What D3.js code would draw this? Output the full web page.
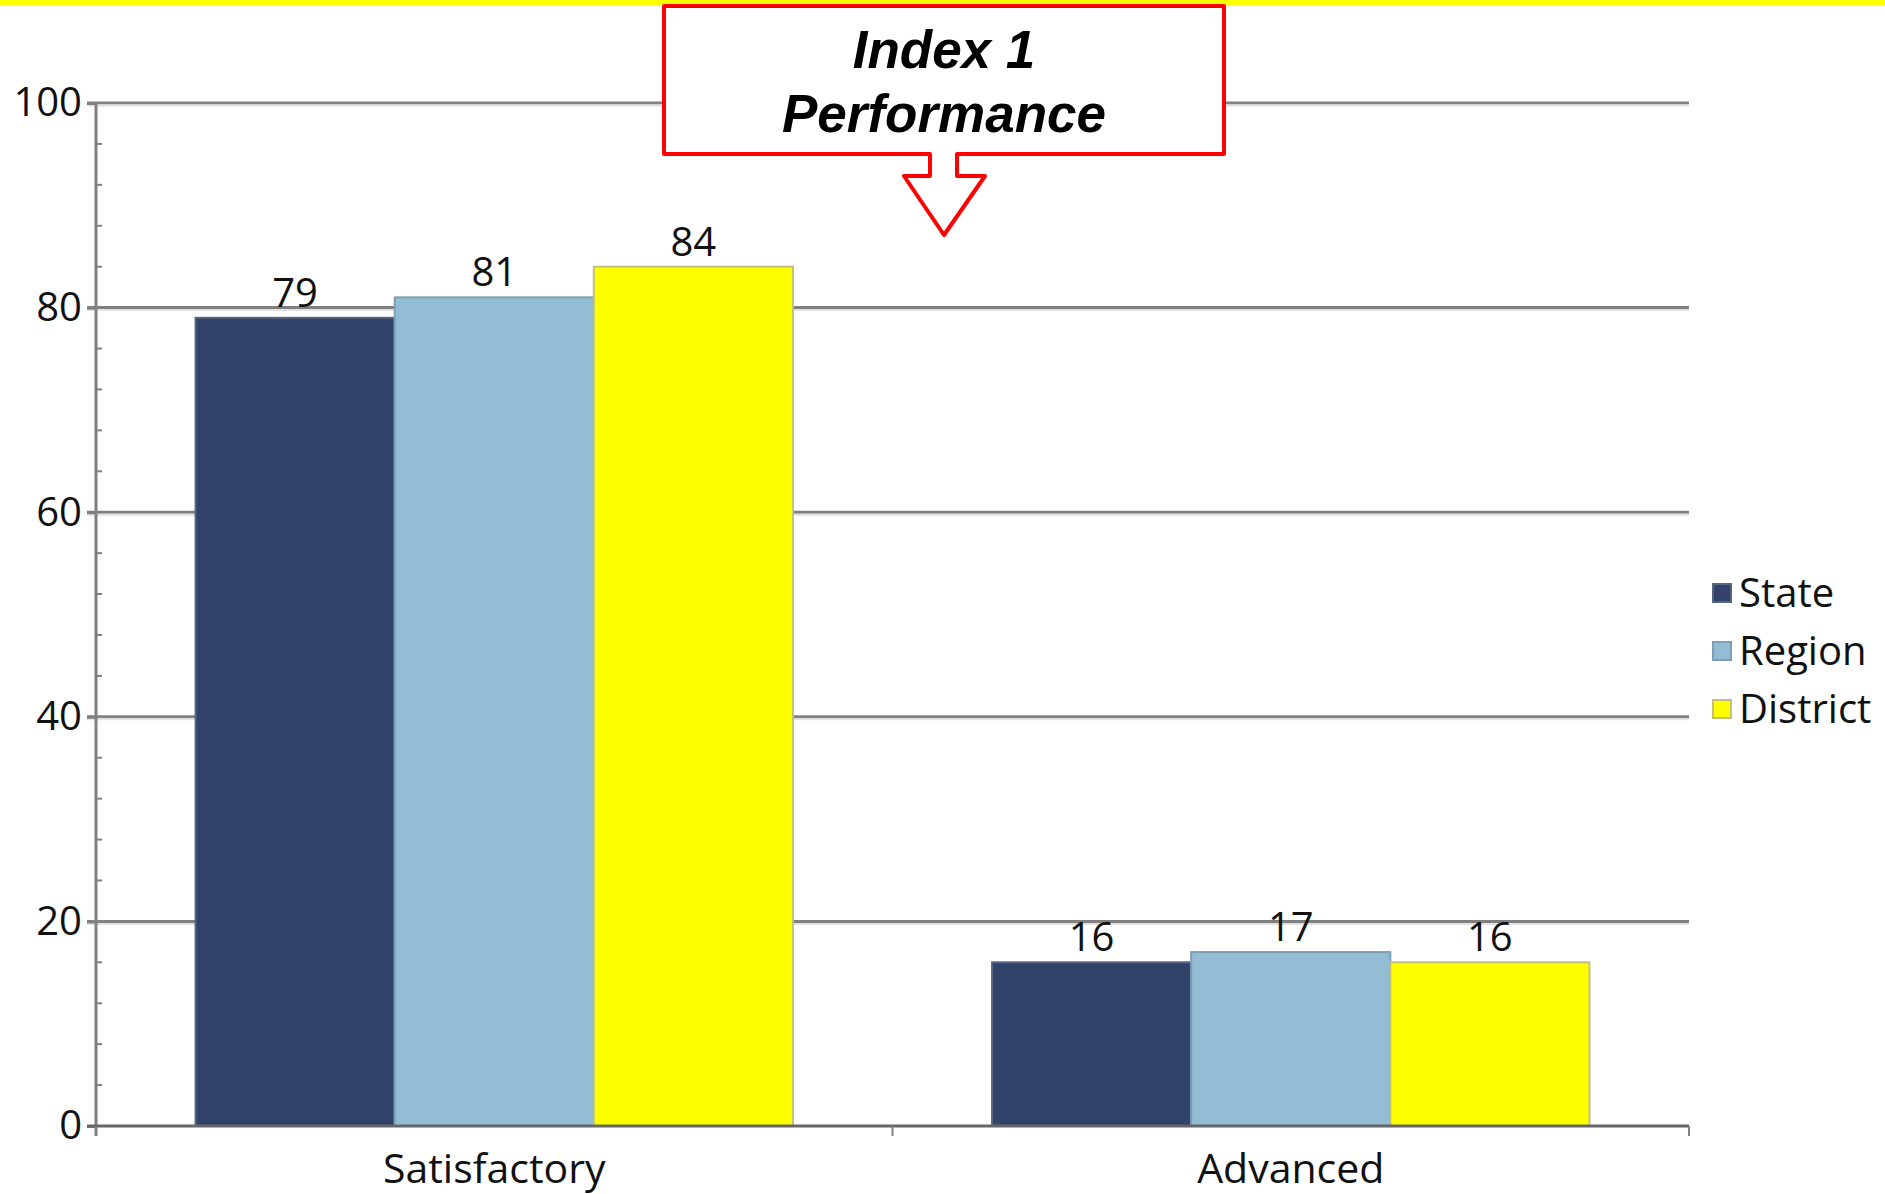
<!DOCTYPE html>
<html>
<head>
<meta charset="utf-8">
<script src="https://cdn.jsdelivr.net/npm/d3@7"></script>
<style>
  body { margin: 0; background: #fff; }
  svg { display: block; }
</style>
</head>
<body>
<script>
const categories = ['Satisfactory', 'Advanced']
const seriesNames = ['State', 'Region', 'District']
const stateValues = [79, 16]
const regionValues = [81, 17]
const districtValues = [84, 16]
const yTicks = [0, 20, 40, 60, 80, 100]
const titleLines = ['Index 1', 'Performance']

const w = 1885
const h = 1194
const colors = { State: '#31436a', Region: '#92bdd5', District: '#ffff00' }
const edges = { State: '#56647f', Region: '#7e9fb3', District: '#c4c07a' }
const font = '"Open Sans", Lato, sans-serif'

const plotLeft = 96, plotRight = 1689, plotTop = 103, plotBottom = 1126

const svg = d3.select('body')
     .append('svg')
     .attr('width', w)
     .attr('height', h)

// yellow strip across the top
svg.append('rect')
     .attr('x', 0).attr('y', 0)
     .attr('width', w).attr('height', 5)
     .attr('fill', '#ffff00')

const yScale = d3.scaleLinear().domain([0, 100]).range([plotBottom, plotTop])

const x0 = d3.scaleBand()
     .domain(categories)
     .range([plotLeft, plotRight])
     .paddingInner(0.25)
     .paddingOuter(0.125)

const x1 = d3.scaleBand()
     .domain(seriesNames)
     .range([0, x0.bandwidth()])

// gridlines
svg.append('g')
     .selectAll('line')
     .data(yTicks.filter(d => d > 0))
     .enter()
     .append('line')
     .attr('x1', plotLeft - 9)
     .attr('x2', plotRight)
     .attr('y1', d => yScale(d))
     .attr('y2', d => yScale(d))
     .attr('stroke', '#808080')
     .attr('stroke-width', 3)

svg.append('g')
     .selectAll('line')
     .data(yTicks.filter(d => d > 0))
     .enter()
     .append('line')
     .attr('x1', plotLeft - 9)
     .attr('x2', plotRight)
     .attr('y1', d => yScale(d) + 2.5)
     .attr('y2', d => yScale(d) + 2.5)
     .attr('stroke', '#e2e2e2')
     .attr('stroke-width', 2)

const rows = categories.map((c, i) => ({
     cat: c,
     values: [
          { name: 'State', value: stateValues[i] },
          { name: 'Region', value: regionValues[i] },
          { name: 'District', value: districtValues[i] }
     ]
}))

const groups = svg.selectAll('.grp')
     .data(rows)
     .enter()
     .append('g')
     .attr('class', 'grp')
     .attr('transform', d => 'translate(' + x0(d.cat) + ',0)')

groups.selectAll('rect')
     .data(d => d.values)
     .enter()
     .append('rect')
     .attr('x', d => x1(d.name))
     .attr('y', d => yScale(d.value))
     .attr('width', x1.bandwidth())
     .attr('height', d => plotBottom - yScale(d.value))
     .attr('fill', d => colors[d.name])
     .attr('stroke', d => edges[d.name])
     .attr('stroke-width', 2)

groups.selectAll('text')
     .data(d => d.values)
     .enter()
     .append('text')
     .attr('x', d => x1(d.name) + x1.bandwidth() / 2)
     .attr('y', d => yScale(d.value) - 11)
     .attr('text-anchor', 'middle')
     .attr('font-family', font)
     .attr('font-size', 40)
     .attr('fill', '#111')
     .text(d => d.value)

// y axis
const yAxis = d3.axisLeft(yScale).tickValues(yTicks).tickSize(9).tickPadding(5)
const yg = svg.append('g')
     .attr('transform', 'translate(' + plotLeft + ',0)')
     .call(yAxis)
yg.select('.domain').remove()
yg.selectAll('.tick line').attr('stroke', '#808080').attr('stroke-width', 3)
yg.selectAll('.tick text')
     .attr('font-family', font)
     .attr('font-size', 40)
     .attr('fill', '#111')

// minor ticks every 4
const minor = d3.range(0, 101, 4).filter(d => d % 20 !== 0)
svg.append('g')
     .selectAll('line')
     .data(minor)
     .enter()
     .append('line')
     .attr('x1', plotLeft)
     .attr('x2', plotLeft + 6)
     .attr('y1', d => yScale(d))
     .attr('y2', d => yScale(d))
     .attr('stroke', '#808080')
     .attr('stroke-width', 2)

svg.append('line')
     .attr('x1', plotLeft).attr('x2', plotLeft)
     .attr('y1', plotTop).attr('y2', plotBottom + 10)
     .attr('stroke', '#808080')
     .attr('stroke-width', 3)

// x axis
svg.append('line')
     .attr('x1', plotLeft - 9).attr('x2', plotRight)
     .attr('y1', plotBottom).attr('y2', plotBottom)
     .attr('stroke', '#666')
     .attr('stroke-width', 3)

const catStep = x0.step()
svg.append('g')
     .selectAll('line')
     .data(d3.range(categories.length + 1))
     .enter()
     .append('line')
     .attr('x1', d => plotLeft + d * catStep)
     .attr('x2', d => plotLeft + d * catStep)
     .attr('y1', plotBottom)
     .attr('y2', plotBottom + 10)
     .attr('stroke', '#808080')
     .attr('stroke-width', 2)

svg.append('g')
     .selectAll('text')
     .data(categories)
     .enter()
     .append('text')
     .attr('x', d => x0(d) + x0.bandwidth() / 2)
     .attr('y', plotBottom + 57)
     .attr('text-anchor', 'middle')
     .attr('font-family', font)
     .attr('font-size', 41)
     .attr('fill', '#111')
     .text(d => d)

// legend
const legend = svg.append('g')
     .attr('transform', 'translate(1713,593)')

legend.selectAll('rect')
     .data(seriesNames)
     .enter()
     .append('rect')
     .attr('x', 0)
     .attr('y', (d, i) => i * 58 - 9)
     .attr('width', 18)
     .attr('height', 18)
     .attr('fill', d => colors[d])
     .attr('stroke', d => edges[d])
     .attr('stroke-width', 2)

legend.selectAll('text')
     .data(seriesNames)
     .enter()
     .append('text')
     .attr('x', 26)
     .attr('y', (d, i) => i * 58 + 14)
     .attr('font-family', font)
     .attr('font-size', 40)
     .attr('fill', '#111')
     .text(d => d)

// callout box with arrow
const callout = d3.path()
callout.moveTo(664, 6)
callout.lineTo(1224, 6)
callout.lineTo(1224, 154)
callout.lineTo(957, 154)
callout.lineTo(957, 176)
callout.lineTo(985, 176)
callout.lineTo(944, 235)
callout.lineTo(904, 176)
callout.lineTo(930, 176)
callout.lineTo(930, 154)
callout.lineTo(664, 154)
callout.closePath()

svg.append('path')
     .attr('d', callout.toString())
     .attr('fill', '#fff')
     .attr('stroke', '#ff0000')
     .attr('stroke-width', 4)
     .attr('stroke-linejoin', 'round')

svg.append('g')
     .selectAll('text')
     .data(titleLines)
     .enter()
     .append('text')
     .attr('x', 944)
     .attr('y', (d, i) => 68 + i * 64)
     .attr('text-anchor', 'middle')
     .attr('font-family', '"Liberation Sans", Arial, sans-serif')
     .attr('font-weight', 'bold')
     .attr('font-style', 'italic')
     .attr('font-size', 53)
     .attr('fill', '#000')
     .text(d => d)
</script>
</body>
</html>
